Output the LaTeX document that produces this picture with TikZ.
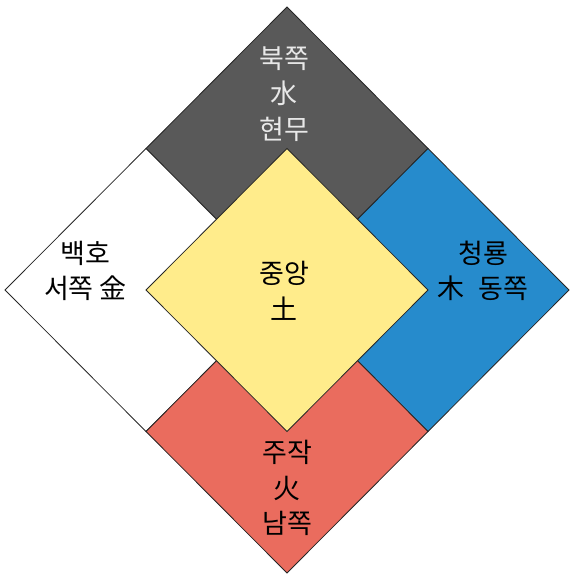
\documentclass[tikz,border=0pt]{standalone}
\usepackage{fontspec}
\setmainfont{Noto Sans CJK KR}
\begin{document}
\begin{tikzpicture}[x=1pt,y=-1pt,
  tile/.style={draw=black!85, line width=0.8pt, line join=miter},
  lbl/.style={align=center, font=\fontsize{27}{35.5}\selectfont, inner sep=0pt},
]
\useasboundingbox (0,0) rectangle (574,579);
\definecolor{cgray}{RGB}{89,89,89}
\definecolor{cblue}{RGB}{38,139,204}
\definecolor{cyel}{RGB}{255,236,139}
\definecolor{cred}{RGB}{234,108,94}
\definecolor{ctxt}{RGB}{232,232,232}
% vertices
\coordinate (T) at (287,7);
\coordinate (L) at (5,290);
\coordinate (R) at (569,290);
\coordinate (B) at (287,573);
\coordinate (C) at (287,290);
\coordinate (TL) at (146,148.5);
\coordinate (TR) at (428,148.5);
\coordinate (BL) at (146,431.5);
\coordinate (BR) at (428,431.5);
\coordinate (Ct) at (287,148.5);
\coordinate (Cb) at (287,431.5);
\coordinate (Cl) at (146,290);
\coordinate (Cr) at (428,290);
% tiles
\fill[cgray] (T) -- (TR) -- (C) -- (TL) -- cycle;
\draw[tile] (T) -- (TR) -- (C) -- (TL) -- cycle;
\draw[tile, fill=white] (TL) -- (C) -- (BL) -- (L) -- cycle;
\draw[tile, fill=cblue] (TR) -- (R) -- (BR) -- (C) -- cycle;
\draw[tile, fill=cred] (C) -- (BR) -- (B) -- (BL) -- cycle;
\draw[tile, fill=cyel] (Ct) -- (Cr) -- (Cb) -- (Cl) -- cycle;
% labels
\node[lbl, text=ctxt] (north) at (284,94) {북쪽\\水\\현무};
\node[lbl] (west) at (85.5,271) {백호\\서쪽 金};
\node[lbl] (east) at (483,271) {청룡\\木\hspace{0.5em}동쪽};
\node[lbl] (center) at (284,291) {중앙\\土};
\node[lbl] (south) at (287,488) {주작\\火\\남쪽};
\end{tikzpicture}
\end{document}
